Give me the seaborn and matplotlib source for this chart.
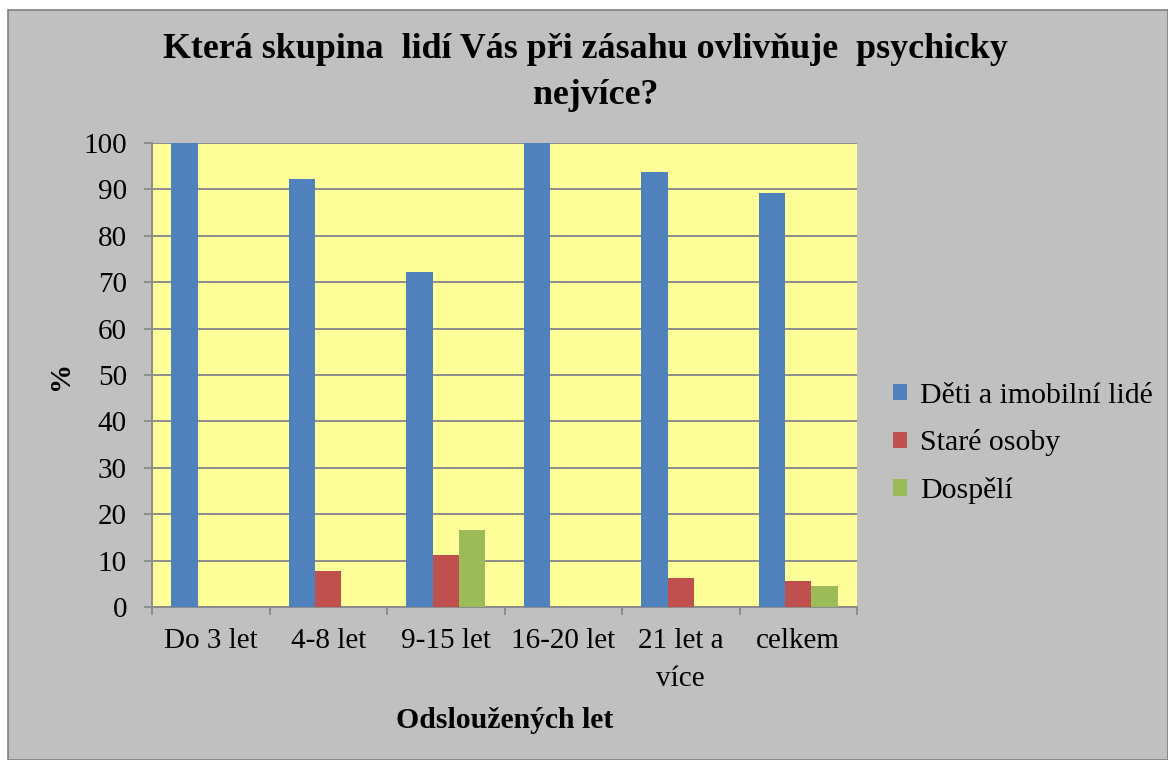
import matplotlib
matplotlib.use("Agg")
import matplotlib.pyplot as plt
import seaborn as sns
import pandas as pd
from matplotlib.patches import Rectangle

categories = ["Do 3 let", "4-8 let", "9-15 let", "16-20 let", "21 let a\nvíce", "celkem"]
series_names = ["Děti a imobilní lidé", "Staré osoby", "Dospělí"]
deti = [100.0, 92.3, 72.2, 100.0, 93.75, 89.3]
stare = [0.0, 7.7, 11.1, 0.0, 6.25, 5.7]
dospeli = [0.0, 0.0, 16.7, 0.0, 0.0, 4.5]
colors = ["#4F81BD", "#C0504D", "#9BBB59"]
yticks = [0, 10, 20, 30, 40, 50, 60, 70, 80, 90, 100]

rows = []
for name, vals in zip(series_names, [deti, stare, dospeli]):
    for c, v in zip(categories, vals):
        rows.append({"cat": c, "series": name, "val": v})
df = pd.DataFrame(rows)

sns.set_theme(style="white")
plt.rcParams["font.family"] = ["Liberation Serif", "DejaVu Serif"]
plt.rcParams["text.color"] = "black"

W, H = 1168, 760
fig = plt.figure(figsize=(W / 100, H / 100), dpi=100)
fig.patch.set_facecolor("white")
fig.patches.append(Rectangle((8 / W, 0), 1 - 8 / W, 1 - 10 / H, transform=fig.transFigure,
                             facecolor="#C0C0C0", edgecolor="#808080", linewidth=1.2, zorder=-10))

ax = fig.add_axes([152 / W, 1 - 607 / H, (857 - 152) / W, (607 - 143) / H])
ax.set_facecolor("#FFFF99")
sns.barplot(data=df, x="cat", y="val", hue="series", order=categories, hue_order=series_names,
            palette=colors, saturation=1, width=0.67, ax=ax, zorder=3, edgecolor="none")

ax.set_ylim(0, 100)
ax.set_xlim(-0.5, len(categories) - 0.5)
ax.set_yticks(yticks)
ax.yaxis.grid(True, color="#8C8C8C", linewidth=1.4, zorder=0)
ax.set_axisbelow(True)
for s in ["top", "right"]:
    ax.spines[s].set_visible(False)
for s in ["left", "bottom"]:
    ax.spines[s].set_color("#8C8C8C")
    ax.spines[s].set_linewidth(1.4)

ax.set_xticks(range(len(categories)))
ax.set_xticklabels(categories)
ax.set_xticks([i - 0.5 for i in range(len(categories) + 1)], minor=True)
ax.tick_params(axis="x", which="major", length=0, pad=15, labelsize=21, labelcolor="black")
ax.tick_params(axis="x", which="minor", length=6, width=1.4, color="#8C8C8C", direction="out", bottom=True)
ax.tick_params(axis="y", which="major", length=6, width=1.4, color="#8C8C8C", direction="out",
               pad=12, labelsize=21, labelcolor="black", left=True)
for t in ax.get_xticklabels():
    t.set_linespacing(1.6)
    t.set_verticalalignment("top")

ax.set_xlabel("Odsloužených let", fontsize=21.4, fontweight="bold", labelpad=11, color="black")
ax.set_ylabel("%", fontsize=21, fontweight="bold", color="black")
ax.yaxis.set_label_coords((74 - 152) / (857 - 152), (607 - 375) / (607 - 143))

fig.text(0.501, 1 - 50 / H, "Která skupina  lidí Vás při zásahu ovlivňuje  psychicky",
         ha="center", va="center", fontsize=25.8, fontweight="bold", color="black")
fig.text(0.51, 1 - 95 / H, "nejvíce?", ha="center", va="center", fontsize=25.8,
         fontweight="bold", color="black")

handles, labels = ax.get_legend_handles_labels()
ax.legend(handles, labels, loc="upper left", bbox_to_anchor=(866 / W, 1 - 356 / H),
          bbox_transform=fig.transFigure, frameon=False, fontsize=21.5, labelcolor="black",
          handlelength=0.47, handleheight=0.47, handletextpad=0.43, labelspacing=0.69)

fig.savefig("out.png", dpi=100, facecolor=fig.get_facecolor())
